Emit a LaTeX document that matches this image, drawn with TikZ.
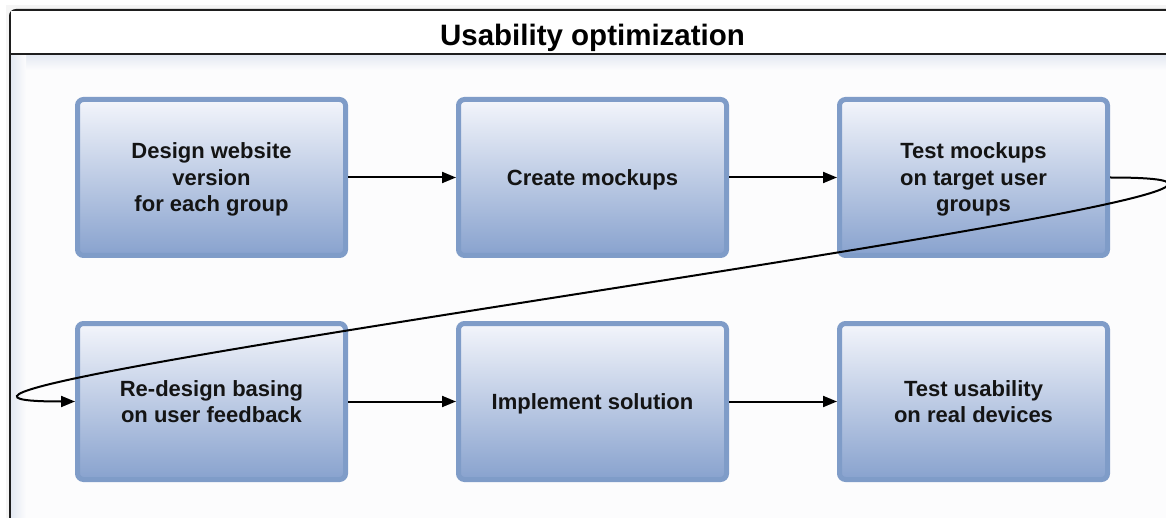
\documentclass[tikz,border=0pt]{standalone}
\usepackage{fontspec}
\setmainfont{Liberation Sans}
\usepackage{xcolor}
\usetikzlibrary{positioning,arrows.meta}

\definecolor{boxline}{HTML}{7F9CC8}
\definecolor{boxtop}{HTML}{F3F5FB}
\definecolor{boxbottom}{HTML}{88A2CE}
\definecolor{frameline}{HTML}{1E1E1E}
\definecolor{bodyfill}{HTML}{FCFCFD}
\definecolor{bodyshade}{HTML}{E4E9F2}

\begin{document}
\begin{tikzpicture}[x=1pt, y=1pt, node distance={108pt},
    main/.style = {rectangle, rounded corners=6pt, line width=5pt, draw=boxline,
        top color=boxtop, bottom color=boxbottom, minimum width=268pt, minimum height=156pt,
        align=center, text=black!92, text depth=0pt, font=\bfseries\fontsize{22}{26.5}\selectfont},
    link/.style = {->, line width=2pt},
    >={Triangle[length=14pt, width=11pt]}]
    \useasboundingbox (0,0) rectangle (1166,517);

    % frame with header
    \begin{scope}
    \clip (0,0) rectangle (1166,517);
    \fill[black!4] (6,-20) rectangle (1180,512);
    \filldraw[line width=2pt, draw=frameline, fill=bodyfill, rounded corners=6pt] (10,-30) rectangle (1190,507);
    \fill[white] (11,464) rectangle (1180,506);
    \shade[top color=bodyshade, bottom color=bodyfill] (11,447) rectangle (1180,462);
    \shade[left color=bodyshade, right color=bodyfill] (11,-20) rectangle (26,462);
    \draw[line width=2pt, frameline] (10,463) -- (1180,463);
    \end{scope}
    \node (title) at (592.5,479) {\bfseries\fontsize{29.5}{32}\selectfont Usability optimization};

    \node[main] (1) at (211.5,339.5) {Design website\\version\\for each group};
    \node[main] (2) [right=108pt of 1] {Create mockups};
    \node[main] (3) [right=108pt of 2] {Test mockups\\on target user\\groups};

    \node[main] (4) [below=63pt of 1] {Re-design basing\\on user feedback};
    \node[main] (5) [right=108pt of 4] {Implement solution};
    \node[main] (6) [right=108pt of 5] {Test usability\\on real devices};

    \path[link] (1) edge (2);
    \path[link] (2) edge (3);
    \draw[link] (3.east) .. controls +(400,0) and +(-360,0) .. (4.west);
    \path[link] (4) edge (5);
    \path[link] (5) edge (6);
\end{tikzpicture}
\end{document}
